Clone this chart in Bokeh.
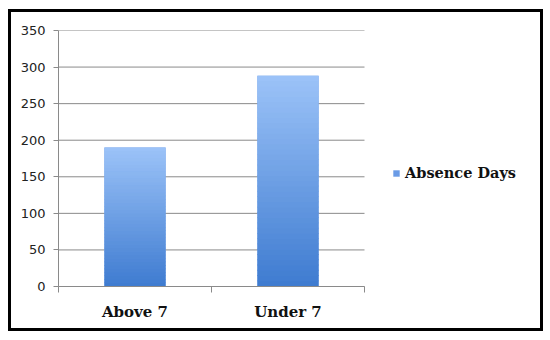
from bokeh.plotting import figure
from bokeh.models import (Range1d, LinearAxis, FixedTicker, Legend, LegendItem)
from bokeh.embed import file_html
from bokeh.resources import INLINE

categories = ["Above 7", "Under 7"]
values = [190, 288]
y_ticks = [0, 50, 100, 150, 200, 250, 300, 350]
series_name = "Absence Days"

n = len(categories)
x_centers = [i + 0.5 for i in range(n)]
boundaries = list(range(n + 1))

# the frame also holds the legend area to the right of the category band
frame_w, band_w = 472, 306
x_end = n * frame_w / band_w

p = figure(width=535, height=322, output_backend="svg", toolbar_location=None,
           x_range=Range1d(0, x_end), y_range=Range1d(0, 350),
           x_axis_type=None, y_axis_type=None,
           min_border_left=47, min_border_right=535 - 47 - frame_w,
           min_border_top=18, min_border_bottom=48)
p.background_fill_color = "white"
p.border_fill_color = "white"
p.outline_line_color = None
p.xgrid.grid_line_color = None
p.ygrid.grid_line_color = None
p.styles = {"border": "3px solid black", "margin-left": "8px", "margin-top": "9px"}

# y axis
yax = LinearAxis(ticker=FixedTicker(ticks=y_ticks))
yax.axis_line_color = "#8a8a8a"
yax.major_tick_line_color = "#8a8a8a"
yax.major_tick_out = 5
yax.major_tick_in = 0
yax.minor_tick_line_color = None
yax.major_label_standoff = 8
yax.major_label_text_font = "DejaVu Sans"
yax.major_label_text_font_size = "13px"
yax.major_label_text_color = "#222222"
p.add_layout(yax, "left")

# x axis: ticks at category boundaries (no labels)
xax = LinearAxis(ticker=FixedTicker(ticks=boundaries), bounds=(0, n),
                 major_label_overrides={b: "" for b in boundaries})
xax.axis_line_color = "#8a8a8a"
xax.major_tick_line_color = "#8a8a8a"
xax.major_tick_out = 6
xax.major_tick_in = 0
xax.minor_tick_line_color = None
xax.major_label_text_font_size = "1px"
xax.major_label_standoff = 0
p.add_layout(xax, "below")

# x axis: category labels
lax = LinearAxis(ticker=FixedTicker(ticks=x_centers),
                 major_label_overrides={c: nm for c, nm in zip(x_centers, categories)})
lax.axis_line_color = None
lax.major_tick_line_color = None
lax.minor_tick_line_color = None
lax.major_label_text_font = "DejaVu Serif"
lax.major_label_text_font_style = "bold"
lax.major_label_text_font_size = "15px"
lax.major_label_text_color = "#111111"
lax.major_label_standoff = 4
p.add_layout(lax, "below")

# horizontal gridlines limited to the category band
p.segment(x0=[0] * len(y_ticks), x1=[n] * len(y_ticks), y0=y_ticks, y1=y_ticks,
          line_color="#8a8a8a", line_width=1)

# base bars (legend)
base = p.vbar(x=x_centers, top=values, bottom=0, width=0.4,
              fill_color="#6a9be6", line_color=None)

# gradient slices
def lerp(c1, c2, t):
    a = [int(c1[i:i+2], 16) for i in (1, 3, 5)]
    b = [int(c2[i:i+2], 16) for i in (1, 3, 5)]
    return "#%02x%02x%02x" % tuple(round(a[k] + (b[k] - a[k]) * t) for k in range(3))

N = 40
xs, bots, tops, cols = [], [], [], []
for xc, v in zip(x_centers, values):
    for i in range(N):
        xs.append(xc)
        bots.append(v * i / N)
        tops.append(v * (i + 1) / N + (v * 0.004 if i < N - 1 else 0))
        cols.append(lerp("#3e7bd0", "#9cc3f8", (i + 0.5) / N))
p.vbar(x=xs, top=tops, bottom=bots, width=0.4, fill_color=cols, line_color=None)

legend = Legend(items=[LegendItem(label=series_name, renderers=[base])],
                location=(334, 105))
legend.border_line_color = None
legend.background_fill_alpha = 0
legend.padding = 0
legend.margin = 0
legend.glyph_width = 8
legend.glyph_height = 8
legend.label_standoff = 5
legend.label_text_font = "DejaVu Serif"
legend.label_text_font_style = "bold"
legend.label_text_font_size = "14.5px"
legend.label_text_color = "#111111"
p.add_layout(legend, "center")

open("out.html", "w").write(file_html(p, INLINE))
